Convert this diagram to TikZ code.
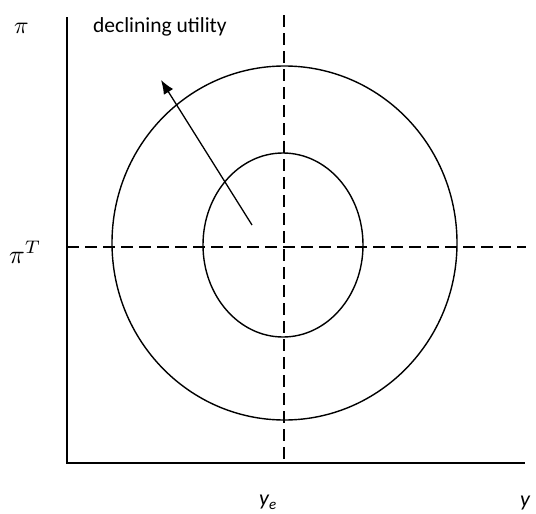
\documentclass[tikz,border=0pt]{standalone}
\usepackage{graphicx}
\usepackage{fontspec}
\newfontfamily\calfont{Carlito}
\usetikzlibrary{arrows.meta,shapes.geometric}
\tikzset{
  axisline/.style={line width=1.6pt},
  guide/.style={line width=1.4pt, dash pattern=on 12pt off 6pt},
  curve/.style={draw, ellipse, line width=1.4pt, inner sep=0pt},
  pointer/.style={line width=1.3pt, -{Latex[length=14pt,width=11pt]}},
  lbl/.style={inner sep=0pt, anchor=base west}
}
\begin{document}
\begin{tikzpicture}[x=1pt,y=-1pt]
\clip (0,0) rectangle (536,514);
\fill[white] (0,0) rectangle (536,514);
% axes
\coordinate (origin) at (67,463);
\coordinate (ytop) at (67,17);
\coordinate (xend) at (525,463);
\draw[axisline] (ytop) -- (origin) -- (xend);
% guides
\coordinate (vtop) at (284,15);
\coordinate (vbot) at (284,463);
\coordinate (hleft) at (67,247);
\coordinate (hright) at (526,247);
\draw[guide] (vtop) -- (vbot);
\draw[guide] (hleft) -- (hright);
% indifference curves
\node[curve, minimum width=345pt, minimum height=354pt] (outer) at (284.5,243) {};
\node[curve, minimum width=160pt, minimum height=184pt] (inner) at (283,245) {};
% arrow
\coordinate (atail) at (252,225);
\coordinate (ahead) at (161,80);
\draw[pointer] (atail) -- (ahead);
% labels
\node[lbl] (pi) at (14,33) {\scalebox{2.4}{$\pi$}};
\node[lbl] (piT) at (9,263) {\scalebox{2.6}{$\pi^{T}$}};
\node[lbl] (decl) at (93,32) {\calfont\fontsize{21.5}{26}\selectfont declining utility};
\node[lbl] (ye) at (259,505) {\calfont\fontsize{22}{26}\selectfont\itshape y\raisebox{-4pt}{\fontsize{15}{18}\selectfont e}};
\node[lbl] (yax) at (520,506) {\calfont\fontsize{22}{26}\selectfont\itshape y};
\end{tikzpicture}
\end{document}
